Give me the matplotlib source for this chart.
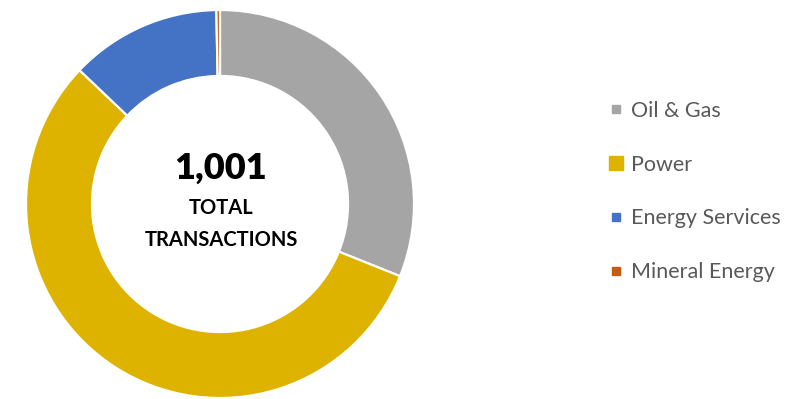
import matplotlib
matplotlib.use('Agg')
import matplotlib.pyplot as plt
from matplotlib.lines import Line2D

# Deal counts by sector
sectors = ['Oil & Gas', 'Power', 'Energy Services', 'Mineral Energy']
counts = [311, 561, 126, 3]
colors = ['#A5A5A5', '#DEB300', '#4472C4', '#C55A11']
total = sum(counts)

plt.rcParams['font.family'] = ['Lato', 'DejaVu Sans']

fig = plt.figure(figsize=(7.93, 3.99), dpi=100)
ax = fig.add_axes([26 / 793, 1 / 399, 388 / 793, 388 / 399])

ax.pie(counts, colors=colors, startangle=90, counterclock=False,
       radius=1.0,
       wedgeprops=dict(width=0.34, edgecolor='white', linewidth=1.6))
ax.set_xlim(-1, 1)
ax.set_ylim(-1, 1)
ax.set_aspect('equal')
ax.axis('off')

# Centre label
ax.text(0.005, 0.185, f'{total:,}', ha='center', va='center',
        fontsize=26, fontweight='heavy', color='black')
ax.text(0.005, -0.02, 'TOTAL', ha='center', va='center',
        fontsize=14.5, fontweight='bold', color='black')
ax.text(0.005, -0.185, 'TRANSACTIONS', ha='center', va='center',
        fontsize=14.5, fontweight='bold', color='black')

# Legend
sizes = [6, 10, 6, 6]
handles = [Line2D([], [], marker='s', linestyle='none', markersize=s,
                  markerfacecolor=c, markeredgecolor=c)
           for s, c in zip(sizes, colors)]
fig.legend(handles, sectors, loc='center left', bbox_to_anchor=(0.743, 0.52),
           frameon=False, fontsize=15.5, labelcolor='#595959',
           labelspacing=1.57, handlelength=0.7, handletextpad=0.35)

fig.savefig('out.png', dpi=100)
